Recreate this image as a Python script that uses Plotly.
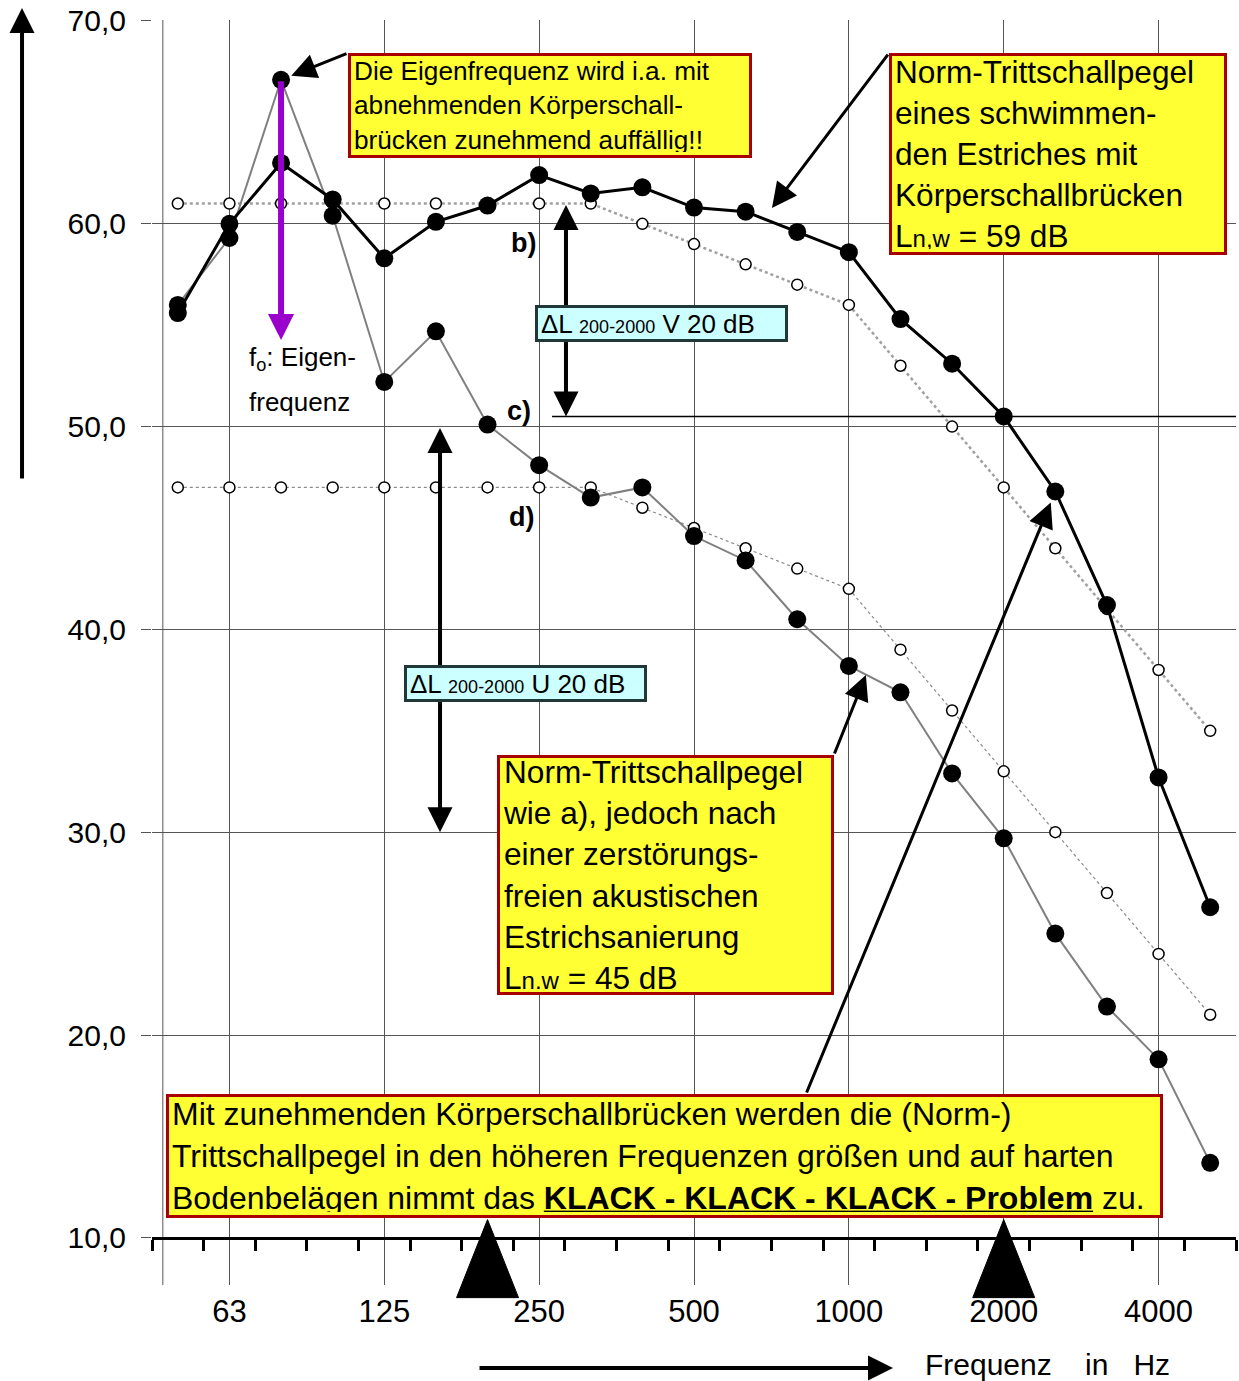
import plotly.graph_objects as go

# Third-octave band centre frequencies (Hz)
bands = ["50", "63", "80", "100", "125", "160", "200", "250", "315", "400", "500",
         "630", "800", "1000", "1250", "1600", "2000", "2500", "3150", "4000", "5000"]
octave_labels = ["63", "125", "250", "500", "1000", "2000", "4000"]
level_ticks = [10, 20, 30, 40, 50, 60, 70]

# a) floating screed with structure-borne sound bridges, Ln,w = 59 dB
lnw_bridges = [55.6, 60.0, 63.0, 61.2, 58.3, 60.1, 60.9, 62.4, 61.5, 61.8, 60.8,
               60.6, 59.6, 58.6, 55.3, 53.1, 50.5, 46.8, 41.2, 32.7, 26.3]
# c) same ceiling after non-destructive acoustic screed renovation, Ln,w = 45 dB
lnw_renovated = [56.0, 59.3, 67.1, 60.4, 52.2, 54.7, 50.1, 48.1, 46.5, 47.0, 44.6,
                 43.4, 40.5, 38.2, 36.9, 32.9, 29.7, 25.0, 21.4, 18.8, 13.7]
# b) shifted reference curve for Ln,w = 59 dB
ref_59 = [61, 61, 61, 61, 61, 61, 61, 61, 61, 60, 59,
          58, 57, 56, 53, 50, 47, 44, 41, 38, 35]
# d) shifted reference curve for Ln,w = 45 dB
ref_45 = [47, 47, 47, 47, 47, 47, 47, 47, 47, 46, 45,
          44, 43, 42, 39, 36, 33, 30, 27, 24, 21]

FONT = "Liberation Sans, Arial, Helvetica, sans-serif"
GRID = "#555555"
YELLOW = "#FFFF33"
DARKRED = "#A80000"
CYAN = "#CCFFFF"
PURPLE = "#9900CC"

idx = {b: i for i, b in enumerate(bands)}
xs = list(range(len(bands)))

X_LO, X_HI = -0.5, len(bands) - 0.5
Y_LO, Y_HI = 7.673, 70.049


def y_paper(v):
    return (v - Y_LO) / (Y_HI - Y_LO)


fig = go.Figure()

open_marker = dict(symbol="circle", size=11, color="white",
                   line=dict(color="black", width=1.5))
fig.add_trace(go.Scatter(x=xs, y=ref_59, mode="lines+markers",
                         line=dict(color="#a0a0a0", width=2.5, dash="dot"),
                         marker=open_marker, hoverinfo="skip"))
fig.add_trace(go.Scatter(x=xs, y=ref_45, mode="lines+markers",
                         line=dict(color="#8a8a8a", width=1.2, dash="dot"),
                         marker=open_marker, hoverinfo="skip"))
fig.add_trace(go.Scatter(x=xs, y=lnw_renovated, mode="lines+markers",
                         line=dict(color="#808080", width=2),
                         marker=dict(size=18, color="black")))
fig.add_trace(go.Scatter(x=xs, y=lnw_bridges, mode="lines+markers",
                         line=dict(color="black", width=3),
                         marker=dict(size=18, color="black")))

fig.update_layout(
    width=1239, height=1381,
    margin=dict(l=152, r=3, t=20, b=96),
    paper_bgcolor="white", plot_bgcolor="white",
    showlegend=False,
    font=dict(family=FONT, color="black"),
    xaxis=dict(
        range=[X_LO, X_HI],
        tickvals=[idx[t] for t in octave_labels],
        ticktext=octave_labels,
        showgrid=True, gridcolor=GRID, gridwidth=1, zeroline=False,
        anchor="free", position=y_paper(10),
        showline=True, linecolor="black", linewidth=3,
        ticks="", ticklabelstandoff=45,
        tickfont=dict(size=31, family=FONT),
        minor=dict(tickvals=[i - 0.5 for i in range(len(bands) + 1)],
                   ticks="outside", ticklen=11, tickwidth=3,
                   tickcolor="black", showgrid=False),
    ),
    yaxis=dict(
        range=[Y_LO, Y_HI],
        tickvals=level_ticks,
        ticktext=[f"{v},0" for v in level_ticks],
        showgrid=True, gridcolor=GRID, gridwidth=1, zeroline=False,
        ticks="outside", ticklen=10, tickcolor=GRID, tickwidth=1,
        showline=False, ticklabelstandoff=9,
        tickfont=dict(size=30, family=FONT),
    ),
)

shapes = [
    # inner frame line near the left edge of the band area
    dict(type="line", xref="x", yref="paper", x0=-0.29, x1=-0.29, y0=0, y1=1,
         layer="below", line=dict(color=GRID, width=1)),
    # level line of curve a) at 2000 Hz
    dict(type="line", xref="x", yref="y", x0=7.25, x1=X_HI,
         y0=lnw_bridges[idx["2000"]], y1=lnw_bridges[idx["2000"]],
         line=dict(color="black", width=1.5)),
]
# big markers for the 200 Hz and 2000 Hz band limits
for b in ("200", "2000"):
    i = idx[b]
    shapes.append(dict(
        type="path", xref="x", yref="paper", layer="above",
        path=f"M {i - 0.6},{y_paper(7.05)} L {i},{y_paper(10.9)} L {i + 0.6},{y_paper(7.05)} Z",
        fillcolor="black", line=dict(color="black", width=1)))
fig.update_layout(shapes=shapes)

ann = []


def box(x, y, w, h, text, size, bg=YELLOW, border=DARKRED):
    ann.append(dict(x=x, y=y, xref="x", yref="y", xanchor="left", yanchor="top",
                    showarrow=False, align="left", valign="middle",
                    width=w, height=h, text=text,
                    font=dict(size=size, family=FONT, color="black"),
                    bgcolor=bg, bordercolor=border, borderwidth=3, borderpad=3))


def arrow(x, y, ax, ay, width=3, size=1.67, color="black", standoff=0, both=False):
    a = dict(x=x, y=y, xref="x", yref="y", ax=ax, ay=ay, axref="x", ayref="y",
             text="", showarrow=True, arrowhead=2, arrowsize=size,
             arrowwidth=width, arrowcolor=color, standoff=standoff)
    if both:
        a.update(arrowside="end+start", startarrowhead=2, startarrowsize=size)
    ann.append(a)


small = "<span style='font-size:24px'>n,w</span>"

# pointer arrows from the text boxes
arrow(idx["80"], lnw_renovated[idx["80"]], 3.297, 68.42, standoff=11)
arrow(11.51, 60.78, 13.778, 68.42)
arrow(13.33, 37.75, 12.71, 33.806)
arrow(idx["2500"], lnw_bridges[idx["2500"]], 12.17, 17.09, standoff=12)

# eigenfrequency marker
arrow(idx["80"], 54.27, idx["80"], lnw_renovated[idx["80"]],
      width=6, size=0.87, color=PURPLE)

# level differences 200-2000 Hz
arrow(7.52, lnw_bridges[idx["2000"]], 7.52, ref_59[idx["200"]], width=4, size=1.25, both=True)
arrow(5.08, 30.0, 5.08, 50.0, width=4, size=1.25, both=True)

box(3.297, 68.42, 392, 93,
    "Die Eigenfrequenz wird i.a. mit<br>abnehmenden Körperschall-<br>brücken zunehmend auffällig!!", 26.2)
box(13.778, 68.42, 326, 190,
    "Norm-Trittschallpegel<br>eines schwimmen-<br>den Estriches mit<br>Körperschallbrücken<br>"
    f"L{small} = 59 dB", 31.6)
box(6.184, 33.806, 325, 228,
    "Norm-Trittschallpegel<br>wie a), jedoch nach<br>einer zerstörungs-<br>freien akustischen<br>"
    f"Estrichsanierung<br>L{small} = 45 dB", 31.6)
box(-0.229, 17.09, 985, 112,
    "Mit zunehmenden Körperschallbrücken werden die (Norm-)<br>"
    "Trittschallpegel in den höheren Frequenzen größen und auf harten<br>"
    "Bodenbelägen nimmt das <b><u>KLACK - KLACK - KLACK - Problem</u></b> zu.", 32)

delta = "ΔL <span style='font-size:18px'>200-2000</span> {} 20 dB"
box(6.92, 56.0, 241, 25, delta.format("V"), 26, bg=CYAN, border="#203838")
box(4.38, 38.24, 231, 25, delta.format("U"), 26, bg=CYAN, border="#203838")

# curve labels
for lbl, x, y in (("b)", 6.69, 59.05), ("c)", 6.61, 50.77), ("d)", 6.65, 45.54)):
    ann.append(dict(x=x, y=y, xref="x", yref="y", text=f"<b>{lbl}</b>",
                    showarrow=False, xanchor="center", yanchor="middle",
                    font=dict(size=27, family=FONT)))

for txt, y in (("f<sub>o</sub>: Eigen-", 53.38), ("frequenz", 51.21)):
    ann.append(dict(x=1.36, y=y, xref="x", yref="y", text=txt, showarrow=False,
                    xanchor="left", yanchor="middle", borderpad=0,
                    font=dict(size=26, family=FONT)))

# axis direction arrows
ann.append(dict(x=-0.1199, y=1.0095, xref="paper", yref="paper", ax=0, ay=472,
                text="", showarrow=True, arrowhead=2, arrowsize=1.25,
                arrowwidth=4, arrowcolor="black"))
ann.append(dict(x=0.6836, y=-0.0656, xref="paper", yref="paper", ax=-415, ay=0,
                text="", showarrow=True, arrowhead=2, arrowsize=1.25,
                arrowwidth=4, arrowcolor="black"))
ann.append(dict(x=0.7122, y=-0.0625, xref="paper", yref="paper",
                text="Frequenz\u00a0\u00a0\u00a0\u00a0in\u00a0\u00a0\u00a0Hz",
                showarrow=False, xanchor="left", yanchor="middle", borderpad=0,
                font=dict(size=30, family=FONT)))

fig.update_layout(annotations=ann)

fig.write_html("out.html")
